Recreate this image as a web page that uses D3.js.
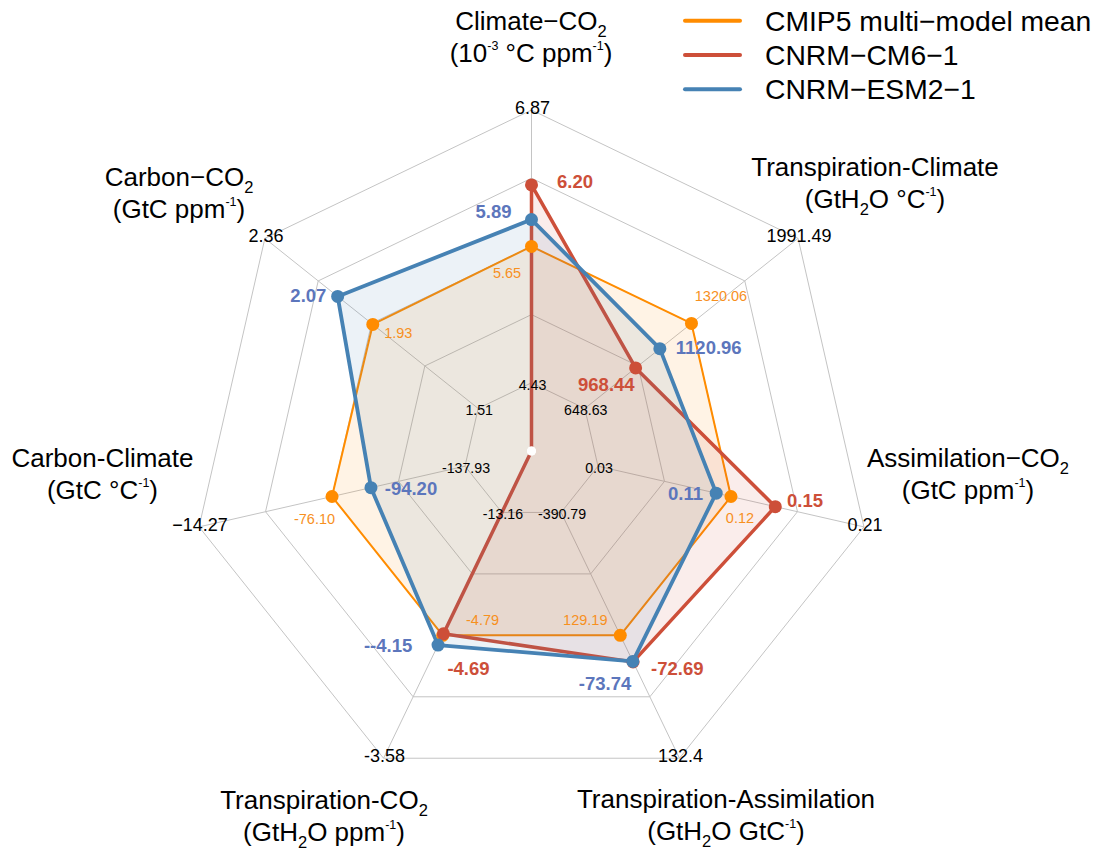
<!DOCTYPE html>
<html>
<head>
<meta charset="utf-8">
<script src="https://cdn.jsdelivr.net/npm/d3@7"></script>
<style>
  html, body { margin: 0; padding: 0; background: #fff; }
  svg { display: block; }
  text { font-family: "Liberation Sans", Arial, Helvetica, sans-serif; }
</style>
</head>
<body>
<svg id="chart" width="1099" height="850"></svg>
<script>
// ---------------- DATA ----------------
const axisNames = ["Climate−CO2", "Transpiration-Climate", "Assimilation−CO2",
  "Transpiration-Assimilation", "Transpiration-CO2", "Carbon-Climate", "Carbon−CO2"];
const axisMin = [4.43, 648.63, 0.03, -390.79, -13.16, -137.93, 1.51];
const axisMax = [6.87, 1991.49, 0.21, 132.4, -3.58, -14.27, 2.36];
const minTickLabels = ["4.43", "648.63", "0.03", "-390.79", "-13.16", "-137.93", "1.51"];
const maxTickLabels = ["6.87", "1991.49", "0.21", "132.4", "-3.58", "−14.27", "2.36"];

const seriesNames = ["CMIP5 multi−model mean", "CNRM−CM6−1", "CNRM−ESM2−1"];
// values (null = not available, drawn at centre)
const cmip5Values = [5.65, 1320.06, 0.12, -129.19, -8.37, -76.10, 1.93];
const cm6Values   = [6.20, 968.44, 0.15, -72.69, -8.43, null, null];
const esm2Values  = [5.89, 1120.96, 0.11, -73.74, -7.99, -94.20, 2.07];
// value labels as printed on the figure
const cmip5Labels = ["5.65", "1320.06", "0.12", "129.19", "-4.79", "-76.10", "1.93"];
const cm6Labels   = ["6.20", "968.44", "0.15", "-72.69", "-4.69", null, null];
const esm2Labels  = ["5.89", "1120.96", "0.11", "-73.74", "--4.15", "-94.20", "2.07"];

// ---------------- LAYOUT / STYLE ----------------
const cx = 531.5, cy = 451, R = 341;
const ringFractions = [0.2, 0.4, 0.6, 0.8, 1.0];
const colors = { cmip5: "#FF8C00", cm6: "#CD4F39", esm2: "#4682B4" };
const labelColors = { cmip5: "#F7901E", cm6: "#CD4F39", esm2: "#5C76BC" };

// title segments: [text, kind] kind: n normal, b sub, p sup
const titles = [
  { x: 531, y: 30, lines: [[["Climate−CO","n"],["2","b"]], [["(10","n"],["-3","p"],[" °C ppm","n"],["-1","p"],[")","n"]]] },
  { x: 875, y: 176, lines: [[["Transpiration-Climate","n"]], [["(GtH","n"],["2","b"],["O °C","n"],["-1","p"],[")","n"]]] },
  { x: 968, y: 467, lines: [[["Assimilation−CO","n"],["2","b"]], [["(GtC ppm","n"],["-1","p"],[")","n"]]] },
  { x: 726, y: 808, lines: [[["Transpiration-Assimilation","n"]], [["(GtH","n"],["2","b"],["O GtC","n"],["-1","p"],[")","n"]]] },
  { x: 324, y: 809, lines: [[["Transpiration-CO","n"],["2","b"]], [["(GtH","n"],["2","b"],["O ppm","n"],["-1","p"],[")","n"]]] },
  { x: 102.5, y: 467, lines: [[["Carbon-Climate","n"]], [["(GtC °C","n"],["-1","p"],[")","n"]]] },
  { x: 179, y: 186, lines: [[["Carbon−CO","n"],["2","b"]], [["(GtC ppm","n"],["-1","p"],[")","n"]]] }
];
const titleLineGap = 31.5;
const titleSize = 26;

// label offsets (dx, dy) from each point to the centre of its value label
const labelOffsets = {
  cmip5: [[-24.5, 26.3], [29.5, -27.4], [9, 21.2], [-35, -15.3], [39.8, -15.3], [-17.5, 22.5], [25.5, 8.3]],
  cm6:   [[43.5, -3], [-29.3, 17], [29.7, -6.6], [44.3, 7.1], [25, 35.2], null, null],
  esm2:  [[-38, -8], [48.9, -1.6], [-30.7, 0], [-27.8, 22.6], [-50, 0.6], [40, 0.4], [-29.3, -0.7]]
};

// ---------------- DRAW ----------------
const svg = d3.select("#chart");
const g = svg.append("g").attr("transform", `translate(${cx},${cy})`);
const n = axisNames.length;
const angle = d3.scaleLinear().domain([0, n]).range([0, 2 * Math.PI]);
const rScales = axisMin.map((mn, i) => d3.scaleLinear().domain([mn, axisMax[i]]).range([0.2 * R, R]));
const frac = d3.scaleLinear().domain([0, 1]).range([0, R]);
const px = (a, r) => r * Math.sin(a);
const py = (a, r) => -r * Math.cos(a);

// rings
const ringLine = d3.lineRadial().angle((d, i) => angle(i)).radius(d => d).curve(d3.curveLinearClosed);
g.append("g").selectAll("path").data(ringFractions).join("path")
  .attr("d", f => ringLine(d3.range(n).map(() => frac(f))))
  .attr("fill", "none").attr("stroke", "#c4c4c4").attr("stroke-width", 1);
// spokes
g.append("g").selectAll("line").data(d3.range(n)).join("line")
  .attr("x1", i => px(angle(i), frac(0.2))).attr("y1", i => py(angle(i), frac(0.2)))
  .attr("x2", i => px(angle(i), frac(1))).attr("y2", i => py(angle(i), frac(1)))
  .attr("stroke", "#c4c4c4").attr("stroke-width", 1);

const series = [
  { key: "cmip5", values: cmip5Values, labels: cmip5Labels, width: 2, labelSize: 14.5, weight: "normal" },
  { key: "cm6", values: cm6Values, labels: cm6Labels, width: 3.5, labelSize: 18.5, weight: "bold" },
  { key: "esm2", values: esm2Values, labels: esm2Labels, width: 3.8, labelSize: 18.5, weight: "bold" }
];
const radiusOf = (v, i) => (v == null ? 0 : rScales[i](v));
const dataLine = d3.lineRadial().angle((d, i) => angle(i)).radius((d, i) => radiusOf(d, i)).curve(d3.curveLinearClosed);

series.forEach(s => {
  g.append("path").attr("d", dataLine(s.values))
    .attr("fill", colors[s.key]).attr("fill-opacity", 0.1)
    .attr("stroke", colors[s.key]).attr("stroke-width", s.width).attr("stroke-linejoin", "round");
});
series.forEach(s => {
  g.append("g").selectAll("circle").data(s.values.map((v, i) => ({ v, i }))).join("circle")
    .attr("cx", d => px(angle(d.i), radiusOf(d.v, d.i)))
    .attr("cy", d => py(angle(d.i), radiusOf(d.v, d.i)))
    .attr("r", d => d.v == null ? 4.5 : 6.5)
    .attr("fill", d => d.v == null ? "#ffffff" : colors[s.key]);
});

// tick labels (min at inner ring, max at outer ring)
g.append("g").selectAll("text").data(d3.range(n)).join("text")
  .attr("x", i => px(angle(i), frac(0.2)) + 1)
  .attr("y", i => py(angle(i), frac(0.2)) + 2)
  .attr("text-anchor", "middle").attr("dominant-baseline", "central")
  .attr("font-size", 14.2).attr("fill", "#000").text(i => minTickLabels[i]);
g.append("g").selectAll("text").data(d3.range(n)).join("text")
  .attr("x", i => px(angle(i), frac(1)) + 1)
  .attr("y", i => py(angle(i), frac(1)) - 2)
  .attr("text-anchor", "middle").attr("dominant-baseline", "central")
  .attr("font-size", 18).attr("fill", "#000").text(i => maxTickLabels[i]);

// value labels
series.forEach(s => {
  g.append("g").selectAll("text").data(s.values.map((v, i) => ({ v, i, t: s.labels[i], o: labelOffsets[s.key][i] })).filter(d => d.t != null))
    .join("text")
    .attr("x", d => px(angle(d.i), radiusOf(d.v, d.i)) + d.o[0])
    .attr("y", d => py(angle(d.i), radiusOf(d.v, d.i)) + d.o[1])
    .attr("text-anchor", "middle").attr("dominant-baseline", "central")
    .attr("font-size", s.labelSize).attr("font-weight", s.weight)
    .attr("fill", labelColors[s.key]).text(d => d.t);
});

// axis titles
const tg = svg.append("g");
titles.forEach(tt => {
  tt.lines.forEach((segs, li) => {
    const t = tg.append("text").attr("x", tt.x).attr("y", tt.y + li * titleLineGap)
      .attr("text-anchor", "middle").attr("font-size", titleSize).attr("fill", "#000");
    let shift = 0;
    segs.forEach(([txt, kind]) => {
      const target = kind === "b" ? 7 : kind === "p" ? -12 : 0;
      t.append("tspan").attr("dy", target - shift)
        .attr("font-size", kind === "b" ? 16.5 : kind === "p" ? 12.5 : titleSize)
        .text(txt);
      shift = target;
    });
  });
});

// legend
const legendKeys = ["cmip5", "cm6", "esm2"];
const legendY = d3.scaleLinear().domain([0, 1]).range([20.7, 55]);
const lg = svg.append("g");
legendKeys.forEach((k, i) => {
  lg.append("line").attr("x1", 685).attr("x2", 740).attr("y1", legendY(i)).attr("y2", legendY(i))
    .attr("stroke", colors[k]).attr("stroke-width", 4).attr("stroke-linecap", "round");
  lg.append("text").attr("x", 765).attr("y", legendY(i)).attr("dominant-baseline", "central")
    .attr("font-size", 28.3).attr("fill", "#000").text(seriesNames[i]);
});
</script>
</body>
</html>
